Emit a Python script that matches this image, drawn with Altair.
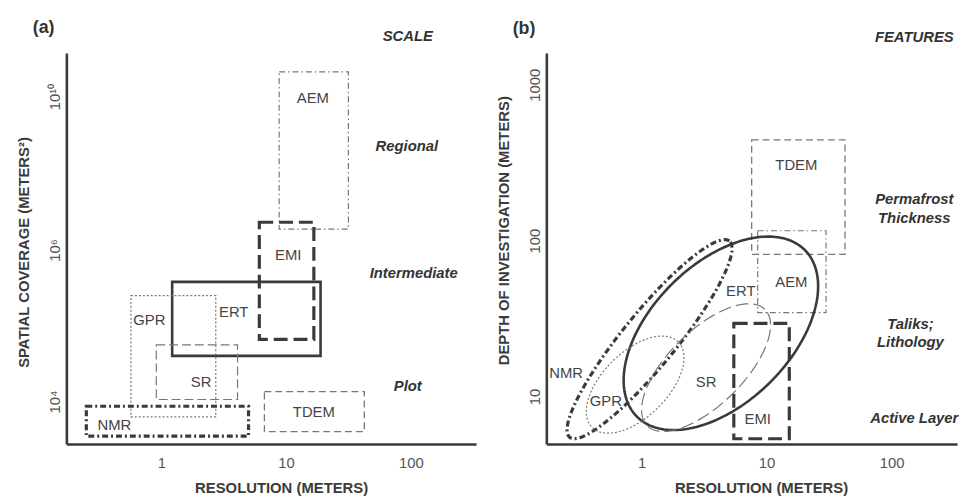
import numpy as np
import pandas as pd
import altair as alt

FONT = "Liberation Sans"

# ---------------- shared method styles ----------------
methods = ["AEM", "EMI", "ERT", "GPR", "SR", "NMR", "TDEM"]
stroke_colors = ["#777777", "#3a3a3a", "#3a3a3a", "#777777", "#777777", "#3a3a3a", "#777777"]
stroke_widths = [1.2, 3.2, 2.6, 1.2, 1.2, 3.2, 1.3]
stroke_dashes = [[6, 3, 1.5, 3], [14, 6], [], [2, 2], [9, 4], [6, 3, 2, 3], [7, 4]]
ellipse_dash_override = {"SR": [13, 5]}

# ---------------- panel (a): scale ----------------
a_methods = ["AEM", "EMI", "ERT", "GPR", "SR", "NMR", "TDEM"]
a_res_min = [8.8, 6.1, 1.22, 0.57, 0.91, 0.25, 6.7]
a_res_max = [31.6, 16.7, 18.9, 2.73, 4.08, 5.0, 42.4]
a_cov_min = [3.5e6, 6.6e4, 4.0e4, 6.2e3, 1.06e4, 3.4e3, 3.9e3]
a_cov_max = [4.4e10, 5.3e6, 3.8e5, 2.5e5, 5.6e4, 8.6e3, 1.35e4]
a_lab_res = [16.4, 10.4, 3.8, 0.80, 2.08, 0.42, 16.7]
a_lab_cov = [9.0e9, 8.6e5, 1.5e5, 1.2e5, 1.8e4, 4.85e3, 7.2e3]

scale_text = ["SCALE", "Regional", "Intermediate", "Plot"]
scale_res = [94.6, 93.0, 105.6, 94.6]
scale_cov = [3.75e11, 5.1e8, 5.0e5, 1.6e4]

a_y_ticks = [1e4, 1e6, 1e10]
a_y_tick_labels = ["10⁴", "10⁶", "10¹⁰"]
# schematic (non-uniform) coverage axis
a_y_breaks = [2.66e3, 1e4, 1e6, 1e10, 1.36e11]

# ---------------- panel (b): features ----------------
b_rect_methods = ["TDEM", "AEM", "EMI"]
b_res_min = [7.6, 8.49, 5.47]
b_res_max = [42.4, 29.9, 15.2]
b_dep_min = [81.5, 34.5, 5.35]
b_dep_max = [443.0, 115.6, 29.4]

b_ell_methods = ["ERT", "NMR", "GPR", "SR"]
b_ell_center_res = [4.31, 1.158, 0.888, 3.28]
b_ell_center_dep = [25.4, 23.3, 11.9, 15.3]
b_ell_major_res = [20.2, 5.04, 1.963, 9.68]
b_ell_major_dep = [87.1, 99.3, 22.4, 36.2]
b_ell_minor_res = [1.74, 0.789, 0.581, 2.01]
b_ell_minor_dep = [52.4, 29.8, 16.7, 22.5]

b_lab_methods = ["TDEM", "AEM", "ERT", "SR", "NMR", "GPR", "EMI"]
b_lab_res = [17.3, 15.8, 6.22, 3.28, 0.249, 0.518, 8.49]
b_lab_dep = [307.0, 54.2, 47.5, 12.4, 14.2, 9.3, 7.15]

feat_text = ["FEATURES", "Permafrost", "Thickness", "Taliks;", "Lithology", "Active Layer"]
feat_res = [152.0, 152.0, 152.0, 141.5, 141.5, 152.0]
feat_dep = [2014.0, 184.6, 140.0, 29.0, 22.3, 7.26]

x_ticks = [1, 10, 100]
x_domain = [0.173, 334]
b_y_ticks = [10, 100, 1000]
b_y_domain = [4.95, 1596]

W_A, W_B, H = 414, 415, 395

# ---------------- build tables ----------------
df_a = pd.DataFrame({"method": a_methods, "r0": a_res_min, "r1": a_res_max,
                     "v0": a_cov_min, "v1": a_cov_max})
df_a_lab = pd.DataFrame({"label": a_methods, "r0": a_lab_res, "v0": a_lab_cov})
df_a_ann = pd.DataFrame({"label": scale_text, "r0": scale_res, "v0": scale_cov})

df_b = pd.DataFrame({"method": b_rect_methods, "r0": b_res_min, "r1": b_res_max,
                     "v0": b_dep_min, "v1": b_dep_max})
df_b_lab = pd.DataFrame({"label": b_lab_methods, "r0": b_lab_res, "v0": b_lab_dep})
df_b_ann = pd.DataFrame({"label": feat_text, "r0": feat_res, "v0": feat_dep})

t = np.linspace(0, 2 * np.pi, 241)
rows = []
for i, m in enumerate(b_ell_methods):
    cx, cy = np.log10(b_ell_center_res[i]), np.log10(b_ell_center_dep[i])
    ux, uy = np.log10(b_ell_major_res[i]) - cx, np.log10(b_ell_major_dep[i]) - cy
    vx, vy = np.log10(b_ell_minor_res[i]) - cx, np.log10(b_ell_minor_dep[i]) - cy
    xs = cx + ux * np.cos(t) + vx * np.sin(t)
    ys = cy + uy * np.cos(t) + vy * np.sin(t)
    for k in range(len(t)):
        rows.append({"method": m, "k": k, "r0": 10 ** xs[k], "v0": 10 ** ys[k]})
df_b_ell = pd.DataFrame(rows)

style = {m: (c, w, d) for m, c, w, d in zip(methods, stroke_colors, stroke_widths, stroke_dashes)}


def stroke_props(m, dash_override=None):
    c, w, d = style[m]
    if dash_override and m in dash_override:
        d = dash_override[m]
    props = dict(stroke=c, strokeWidth=w)
    if d:
        props["strokeDash"] = d
    return props


# ---------------- axes / scales ----------------
x_scale = alt.Scale(type="log", domain=x_domain, nice=False)
x_axis = alt.Axis(values=x_ticks, format="d", title="RESOLUTION (METERS)",
                  titleX=217, labelPadding=12, titlePadding=10)

ya_scale = alt.Scale(type="log", domain=a_y_breaks, range=[H, 352, 199, 44, 0], nice=False)
ya_expr = " : ".join(f"datum.value == {v:g} ? '{l}'" for v, l in zip(a_y_ticks, a_y_tick_labels)) + " : ''"
ya_axis = alt.Axis(values=a_y_ticks, labelExpr=ya_expr, title="SPATIAL COVERAGE (METERS²)",
                   labelAngle=270, labelAlign="center", labelBaseline="bottom",
                   labelPadding=4, titlePadding=16, titleY=201)

yb_scale = alt.Scale(type="log", domain=b_y_domain, nice=False)
yb_axis = alt.Axis(values=b_y_ticks, format="d", title="DEPTH OF INVESTIGATION (METERS)",
                   labelAngle=270, labelAlign="center", labelBaseline="bottom",
                   labelPadding=4, titlePadding=16, titleY=179)

label_style = dict(font=FONT, fontSize=15, color="#444444")
ann_style = dict(font=FONT, fontSize=15, fontWeight="bold", fontStyle="italic", color="#333333")


def panel(df_rect, df_lab, df_ann, yscale, yaxis, title, width, df_ell=None):
    X = alt.X("r0:Q", scale=x_scale, axis=x_axis)
    Y = alt.Y("v0:Q", scale=yscale, axis=yaxis)
    layers = []
    for m in df_rect["method"]:
        layers.append(
            alt.Chart(df_rect[df_rect["method"] == m]).mark_rect(
                fillOpacity=0, **stroke_props(m)
            ).encode(x=X, x2="r1:Q", y=Y, y2="v1:Q")
        )
    if df_ell is not None:
        for m in df_ell["method"].unique():
            layers.append(
                alt.Chart(df_ell[df_ell["method"] == m]).mark_line(
                    strokeJoin="round", **stroke_props(m, ellipse_dash_override)
                ).encode(x=X, y=Y, order="k:Q")
            )
    layers.append(alt.Chart(df_lab).mark_text(**label_style).encode(x=X, y=Y, text="label:N"))
    layers.append(alt.Chart(df_ann).mark_text(**ann_style).encode(x=X, y=Y, text="label:N"))
    return alt.layer(*layers).properties(
        width=width, height=H,
        title=alt.TitleParams(title, anchor="start", frame="group", dx=-34, offset=-8,
                              fontSize=18, fontWeight="bold", font=FONT, color="#333333"),
    )


pa = panel(df_a, df_a_lab, df_a_ann, ya_scale, ya_axis, "(a)", W_A)
pb = panel(df_b, df_b_lab, df_b_ann, yb_scale, yb_axis, "(b)", W_B, df_ell=df_b_ell)

chart = alt.hconcat(pa, pb, spacing=19).properties(
    padding={"left": 8, "top": 8, "right": 0, "bottom": 0}
).configure_view(stroke="transparent").configure_axis(
    domainColor="#3a3a3a", domainWidth=2.6, ticks=False, grid=False,
    labelFont=FONT, labelFontSize=15, labelColor="#555555",
    titleFont=FONT, titleFontSize=15, titleFontWeight="bold", titleColor="#3a3a3a",
)

chart.save("out.html", embed_options={"renderer": "svg", "actions": False})
